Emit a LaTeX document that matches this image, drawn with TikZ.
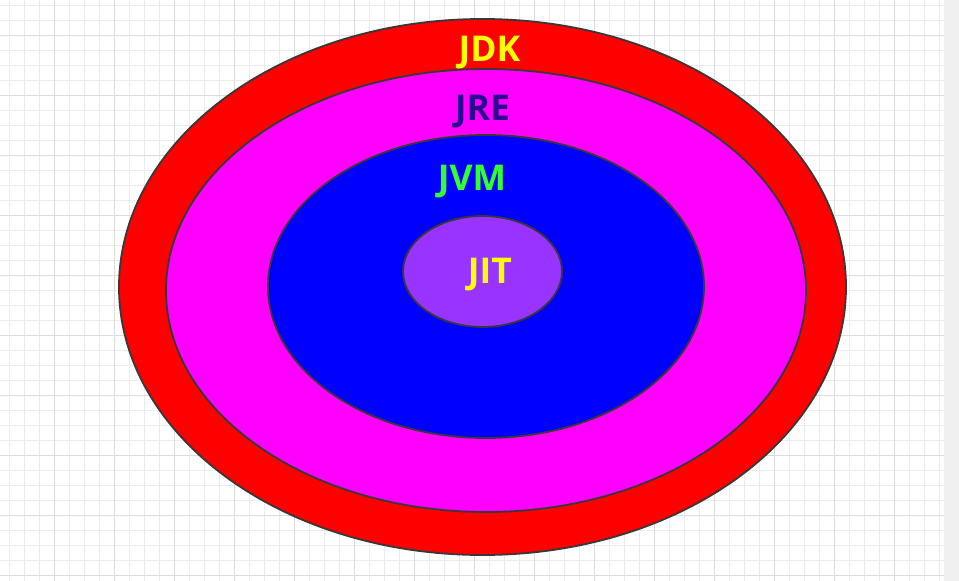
\documentclass[tikz,border=0pt]{standalone}
\usepackage{fontspec}
\setmainfont{Open Sans}
\usetikzlibrary{shapes.geometric}
\definecolor{gridminor}{HTML}{EBEBEB}
\definecolor{gridmajor}{HTML}{DCDCDC}
\definecolor{sidestrip}{HTML}{F0F0F0}
\definecolor{edge}{HTML}{383838}
\definecolor{jdkfill}{HTML}{FF0000}
\definecolor{jrefill}{HTML}{FF00FF}
\definecolor{jvmfill}{HTML}{0000FF}
\definecolor{jitfill}{HTML}{9933FF}
\definecolor{jdktext}{HTML}{FFFF00}
\definecolor{jretext}{HTML}{2A0A90}
\definecolor{jvmtext}{HTML}{33FF33}
\definecolor{jittext}{HTML}{FFFF00}
\tikzset{
  ring/.style={ellipse, draw=edge, line width=1.8pt, inner sep=0pt, outer sep=0pt},
  lbl/.style={anchor=base, font=\fontsize{35.5}{40}\selectfont\bfseries, inner sep=0pt}
}
\begin{document}
\begin{tikzpicture}[x=1pt,y=-1pt]
\useasboundingbox (0,0) rectangle (959,581);
\fill[white] (0,0) rectangle (944,581);
\fill[sidestrip] (944,0) rectangle (959,581);
% grid
\foreach \x in {9.5,24.5,...,940} \draw[gridminor, line width=1pt] (\x,0) -- (\x,581);
\foreach \y in {5.5,20.5,...,581} \draw[gridminor, line width=1pt] (0,\y) -- (944,\y);
\foreach \x in {54.5,114.5,...,940} \draw[gridmajor, line width=1pt] (\x,0) -- (\x,581);
\foreach \y in {35.5,95.5,...,581} \draw[gridmajor, line width=1pt] (0,\y) -- (944,\y);
% ellipses
\node[ring, fill=jdkfill, minimum width=727pt, minimum height=536pt] (jdk) at (482.5,287) {};
\node[ring, fill=jrefill, minimum width=640pt, minimum height=443pt] (jre) at (486,290.5) {};
\node[ring, fill=jvmfill, minimum width=436pt, minimum height=303pt] (jvm) at (486,286.5) {};
\node[ring, fill=jitfill, minimum width=159pt, minimum height=111pt] (jit) at (482.5,271.5) {};
% labels
\node[lbl, text=jdktext] (tjdk) at (489.5,61) {JDK};
\node[lbl, text=jretext] (tjre) at (482.5,120) {JRE};
\node[lbl, text=jvmtext] (tjvm) at (472,190) {JVM};
\node[lbl, text=jittext] (tjit) at (490,283) {JIT};
\end{tikzpicture}
\end{document}
